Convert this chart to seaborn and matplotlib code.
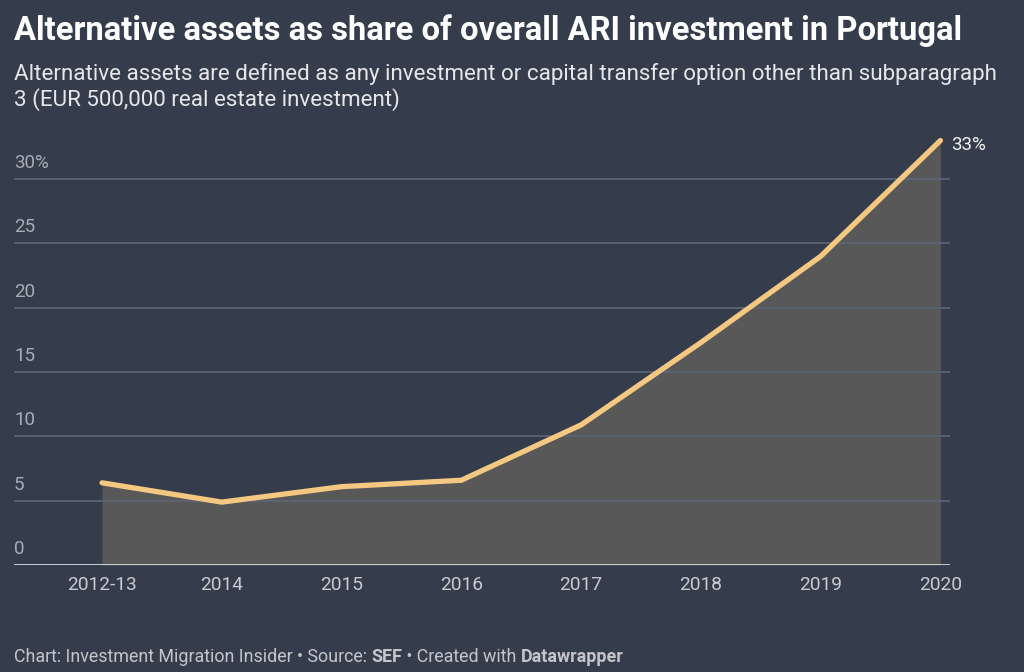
import matplotlib
matplotlib.use("Agg")
import matplotlib.pyplot as plt
import matplotlib.transforms as mtransforms
import seaborn as sns
import pandas as pd

# Datos
years = ["2012-13", "2014", "2015", "2016", "2017", "2018", "2019", "2020"]
share = [6.4, 4.9, 6.1, 6.6, 10.9, 17.3, 24.0, 33.0]
y_ticks = [0, 5, 10, 15, 20, 25, 30]
y_labels = ["0", "5", "10", "15", "20", "25", "30%"]

BG = "#353d4c"
LINE = "#f5c882"
FILL = "#585858"
GRID = "#5d6575"
TICK = "#a8acb4"
XTICK = "#c9cad0"
TEXT = "#f2f2f2"

sns.set_theme(style="white")
plt.rcParams["font.family"] = ["Roboto", "DejaVu Sans"]

df = pd.DataFrame({"pos": range(len(years)), "share": share})

fig = plt.figure(figsize=(10.24, 6.72), dpi=100, facecolor=BG)
ax = fig.add_axes([14 / 1024, 0.159, (950 - 14) / 1024, 0.651])
ax.set_facecolor(BG)

ax.fill_between(df["pos"], df["share"], 0, color=FILL, linewidth=0, zorder=1)
sns.lineplot(data=df, x="pos", y="share", ax=ax, color=LINE, linewidth=3.8,
             solid_capstyle="round", solid_joinstyle="round", zorder=3)

ax.set_xlim(-0.735, 7.08)
ax.set_ylim(0, 34)

# rejilla y etiquetas del eje Y por encima de cada línea
ax.set_yticks(y_ticks)
ax.set_yticklabels([])
ax.tick_params(axis="y", length=0)
trans = mtransforms.blended_transform_factory(ax.transAxes, ax.transData)
for t, lab in zip(y_ticks, y_labels):
    if t > 0:
        ax.axhline(t, color=GRID, linewidth=1.2, zorder=2)
    ax.text(0.0, t + 0.55, lab, transform=trans,
            color=TICK, fontsize=13.5, ha="left", va="bottom")
ax.axhline(0, color="#d6d8de", linewidth=2, zorder=4)

ax.set_xticks(df["pos"])
ax.set_xticklabels(years, color=XTICK, fontsize=13.8)
ax.tick_params(axis="x", length=0, pad=8)
ax.set_xlabel("")
ax.set_ylabel("")
for s in ax.spines.values():
    s.set_visible(False)

ax.annotate(f"{share[-1]:.0f}%", (df["pos"].iloc[-1], share[-1]), xytext=(8, -3),
            textcoords="offset points", color=TEXT, fontsize=13.5, ha="left", va="center")

fig.text(14 / 1024, 1 - 40 / 672, "Alternative assets as share of overall ARI investment in Portugal",
         color="white", fontsize=23.6, fontweight="bold", ha="left", va="baseline")
fig.text(14 / 1024, 1 - 80 / 672,
         "Alternative assets are defined as any investment or capital transfer option other than subparagraph",
         color="#e6e7ea", fontsize=16.1, ha="left", va="baseline")
fig.text(14 / 1024, 1 - 106 / 672, "3 (EUR 500,000 real estate investment)",
         color="#e6e7ea", fontsize=16.1, ha="left", va="baseline")

# pie de página con partes en negrita
parts = [("Chart: Investment Migration Insider • Source: ", "normal"), ("SEF", "bold"),
         (" • Created with ", "normal"), ("Datawrapper", "bold")]
renderer = fig.canvas.get_renderer()
x = 14
for txt, w in parts:
    t = fig.text(x / 1024, 1 - 662 / 672, txt, color="#c3c5cb", fontsize=12.9,
                 fontweight=w, ha="left", va="baseline")
    x += t.get_window_extent(renderer).width

fig.savefig("out.png", dpi=100, facecolor=BG)
